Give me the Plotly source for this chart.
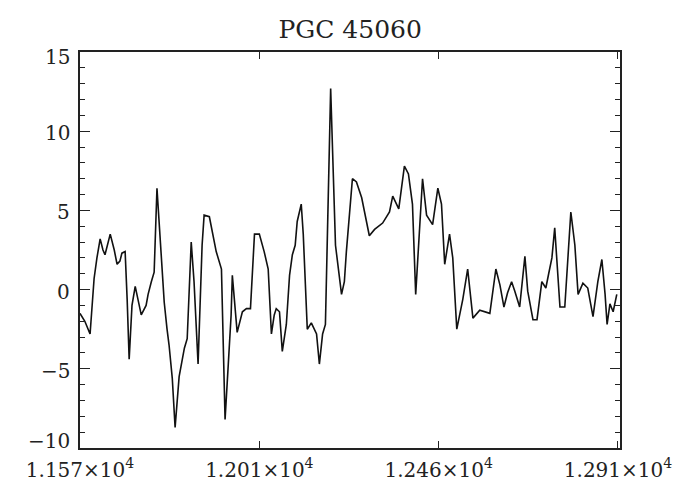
import plotly.graph_objects as go

# Velocity (km/s) and flux density
velocity = [11570, 11582, 11595, 11600, 11605, 11612, 11620, 11627, 11632, 11645,
            11655, 11662, 11669, 11674, 11682, 11687, 11692, 11699, 11707, 11717,
            11722, 11734, 11739, 11747, 11754, 11761, 11771, 11779, 11786, 11791,
            11799, 11806, 11816, 11829, 11836, 11846, 11853, 11863, 11873, 11878,
            11891, 11898, 11908, 11921, 11930, 11938, 11945, 11948, 11955, 11960,
            11973, 11983, 11993, 12003, 12015, 12027, 12037, 12040, 12045, 12052,
            12057, 12065, 12072, 12082, 12090, 12097, 12104, 12109, 12119, 12124,
            12129, 12134, 12144, 12157, 12164, 12172, 12179, 12192, 12204, 12219,
            12226, 12231, 12246, 12256, 12269, 12288, 12301, 12321, 12338, 12346,
            12361, 12375, 12385, 12395, 12403, 12413, 12420, 12430, 12445, 12458,
            12467, 12475, 12487, 12495, 12505, 12520, 12532, 12545, 12562, 12587,
            12602, 12612, 12622, 12631, 12641, 12649, 12661, 12674, 12681, 12694,
            12704, 12716, 12726, 12733, 12741, 12748, 12761, 12773, 12788, 12798,
            12806, 12818, 12830, 12843, 12855, 12865, 12873, 12878, 12885, 12893,
            12902]
flux = [-1.5, -2.0, -2.8, -1.2, 0.7, 2.0, 3.2, 2.5, 2.2, 3.5,
        2.5, 1.6, 1.8, 2.3, 2.4, -0.6, -4.4, -1.0, 0.2, -1.0,
        -1.6, -1.0, -0.3, 0.5, 1.1, 6.4, 2.0, -0.8, -2.5, -3.5,
        -5.6, -8.7, -5.5, -3.7, -3.1, 3.0, 0.5, -4.7, 2.8, 4.7,
        4.6, 3.7, 2.4, 1.3, -8.2, -4.7, -1.6, 0.9, -1.0, -2.7,
        -1.4, -1.2, -1.2, 3.5, 3.5, 2.4, 1.3, -0.6, -2.8, -1.6,
        -1.2, -1.4, -3.9, -2.2, 0.9, 2.2, 2.8, 4.3, 5.4, 3.5,
        0.1, -2.5, -2.1, -2.8, -4.7, -2.8, -2.2, 12.7, 2.8, -0.3,
        0.5, 2.4, 7.0, 6.8, 5.8, 3.4, 3.8, 4.2, 4.9, 5.9,
        5.1, 7.8, 7.3, 5.4, -0.3, 3.7, 7.0, 4.7, 4.1, 6.4,
        5.4, 1.6, 3.5, 2.0, -2.5, -0.6, 1.3, -1.8, -1.3, -1.5,
        1.3, 0.3, -1.1, -0.2, 0.5, -0.1, -1.1, 2.1, -0.1, -1.9,
        -1.9, 0.5, 0.1, 1.0, 2.0, 3.9, -1.1, -1.1, 4.9, 2.8,
        -0.3, 0.4, 0.1, -1.7, 0.5, 1.9, -0.3, -2.2, -0.9, -1.4,
        -0.3]

x_tickvals = [11570, 12015, 12460, 12905]
x_ticktext = ["1.157×10<sup>4</sup>", "1.201×10<sup>4</sup>",
              "1.246×10<sup>4</sup>", "1.291×10<sup>4</sup>"]
y_tickvals = [-10, -5, 0, 5, 10, 15]
y_ticktext = ["−10", "−5", "0", "5", "10", "15"]

FONT = "DejaVu Serif"
INK = "#222222"

fig = go.Figure()
fig.add_trace(go.Scatter(x=velocity, y=flux, mode="lines",
                         line=dict(color="#111111", width=1.6),
                         showlegend=False, hoverinfo="skip"))

fig.update_layout(
    width=676, height=487,
    margin=dict(l=80, r=56, t=52, b=39, autoexpand=False),
    paper_bgcolor="white", plot_bgcolor="white",
    title=dict(text="PGC 45060", x=0.518, xanchor="center", y=0.94, yanchor="middle",
               font=dict(family=FONT, size=25, color=INK)),
    font=dict(family=FONT, color=INK),
)
fig.update_xaxes(
    range=[11570, 12910], tickmode="array", tickvals=x_tickvals, ticktext=x_ticktext,
    ticks="inside", ticklen=7, tickwidth=1.4, tickcolor=INK,
    showline=True, linecolor=INK, linewidth=1.6, mirror="allticks",
    showgrid=False, zeroline=False, ticklabelstandoff=3, automargin=False,
    tickfont=dict(family=FONT, size=20, color=INK),
)
fig.update_yaxes(
    range=[-10, 15], tickmode="linear", tick0=-10, dtick=5,
    ticks="inside", ticklen=10, tickwidth=1.4, tickcolor=INK,
    minor=dict(tickmode="linear", tick0=-10, dtick=1, ticks="inside", ticklen=5,
               tickwidth=1.3, tickcolor=INK),
    showline=True, linecolor=INK, linewidth=1.6, mirror="allticks",
    showgrid=False, zeroline=False, showticklabels=False, automargin=False,
)

# y tick labels (the end labels sit slightly inside the axis span, as in the reference)
label_nudge = {-10: 7, 15: -5}
for val, txt in zip(y_tickvals, y_ticktext):
    fig.add_annotation(
        x=0, xref="paper", y=val, yref="y", text=txt, showarrow=False,
        xanchor="right", yanchor="middle", xshift=-8,
        yshift=label_nudge.get(val, -2),
        font=dict(family=FONT, size=20, color=INK),
    )

fig.write_html("out.html")
